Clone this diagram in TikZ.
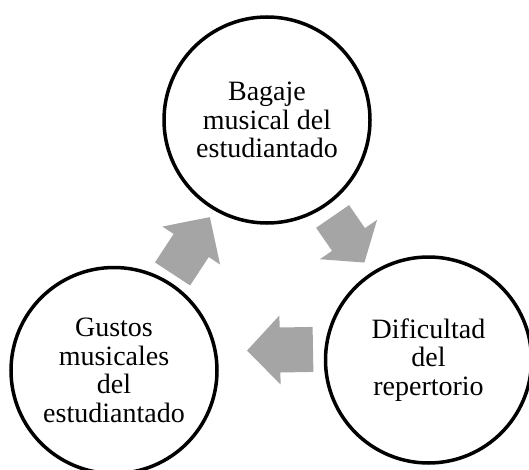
\documentclass[tikz,border=0pt]{standalone}
\usepackage{fontspec}
\setmainfont{Liberation Serif}
\definecolor{arrowgray}{HTML}{A5A5A5}

\begin{document}
\begin{tikzpicture}[x=1pt,y=-1pt,
    bubble/.style={circle,draw,line width=3.5pt,minimum size=206pt,inner sep=0pt,
        align=center,font=\fontsize{28}{28.5}\selectfont},
    pics/cyclearrow/.style n args={4}{code={
        \fill[arrowgray] (-#1/2,-#4/2)--(#1/2-#2,-#4/2)--(#1/2-#2,-#3/2)--(#1/2,0)
            --(#1/2-#2,#3/2)--(#1/2-#2,#4/2)--(-#1/2,#4/2)--cycle;
    }}]
    \useasboundingbox (0,0) rectangle (529,470);
    \node[bubble] (bagaje) at (267,120) {Bagaje\\musical del\\estudiantado};
    \node[bubble] (gustos) at (114,370.5) {Gustos\\musicales\\del\\estudiantado};
    \node[bubble] (dificultad) at (428.5,360) {Dificultad\\del\\repertorio};
    % arrows of the cycle
    \pic[rotate=56.7] (toBagaje) at (191.2,245.5) {cyclearrow={68}{34}{69}{42}};
    \pic[rotate=-55.4] (toDificultad) at (348.5,239.5) {cyclearrow={56}{28}{69.5}{40}};
    \pic[rotate=181] (toGustos) at (280,350) {cyclearrow={66}{33}{69}{45}};
\end{tikzpicture}
\end{document}
